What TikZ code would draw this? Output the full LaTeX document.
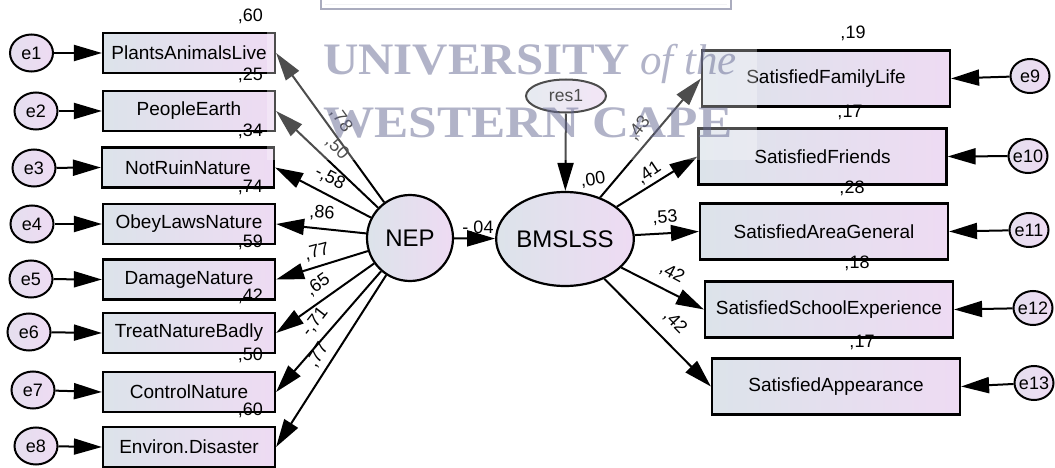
\documentclass[tikz,border=0pt]{standalone}
\usepackage{fontspec}
\setmainfont{Liberation Sans}
\newfontfamily\wmfont{Liberation Serif}
\usetikzlibrary{arrows.meta,shapes.geometric}
\definecolor{boxL}{RGB}{220,227,234}
\definecolor{boxR}{RGB}{238,219,243}
\definecolor{wmcol}{RGB}{100,104,146}
\definecolor{barcol}{RGB}{170,172,190}
\tikzset{
  obs/.style={draw, line width=2.2pt, left color=boxL, right color=boxR, inner sep=0pt, font=\fontsize{19}{22}\selectfont},
  lbox/.style={obs, minimum width=172pt, minimum height=40pt},
  rbox/.style={obs, minimum width=248pt, minimum height=56pt},
  err/.style={ellipse, draw, line width=2pt, left color=boxL!50!boxR, right color=boxR, inner sep=0pt, label={[font=\fontsize{18}{20}\selectfont]center:#1}},
  lerr/.style={err=#1, minimum width=43pt, minimum height=37pt},
  rerr/.style={err=#1, minimum width=39pt, minimum height=34pt},
  lat/.style={draw, line width=2.2pt, left color=boxL, right color=boxR, inner sep=0pt, font=\fontsize{24}{28}\selectfont},
  arr/.style={-{Triangle[length=28pt,width=16pt]}, line width=2pt},
  coef/.style={font=\fontsize{18}{20}\selectfont, inner sep=0pt},
  wmtext/.style={text=wmcol, text opacity=0.5, inner sep=0pt},
}
\begin{document}
\begin{tikzpicture}[x=1pt,y=-1pt]
\useasboundingbox (0,0) rectangle (1055,468);
\fill[white] (0,0) rectangle (1055,468);

% left observed variables
\node[lbox] (b1) at (189,53)    {PlantsAnimalsLive};
\node[lbox] (b2) at (189,111)   {PeopleEarth};
\node[lbox] (b3) at (188,167.5) {NotRuinNature};
\node[lbox] (b4) at (189,224)   {ObeyLawsNature};
\node[lbox] (b5) at (189,279.5) {DamageNature};
\node[lbox] (b6) at (189,333)   {TreatNatureBadly};
\node[lbox] (b7) at (189,392)   {ControlNature};
\node[lbox] (b8) at (189,447)   {Environ.Disaster};

% left errors
\node[lerr=e1] (e1) at (31.5,53) {};
\node[lerr=e2] (e2) at (36,111) {};
\node[lerr=e3] (e3) at (34,168) {};
\node[lerr=e4] (e4) at (32,224) {};
\node[lerr=e5] (e5) at (31,279) {};
\node[lerr=e6] (e6) at (29,332) {};
\node[lerr=e7] (e7) at (33,390) {};
\node[lerr=e8] (e8) at (36,446) {};

% right observed variables
\node[rbox] (b9)  at (826,78.5)   {SatisfiedFamilyLife};
\node[rbox] (b10) at (822.5,156.5) {SatisfiedFriends};
\node[rbox] (b11) at (824,231.5)  {SatisfiedAreaGeneral};
\node[rbox] (b12) at (829,309.5)  {SatisfiedSchoolExperience};
\node[rbox] (b13) at (836,386.5)  {SatisfiedAppearance};

% right errors
\node[rerr=e9]  (e9)  at (1030,76)  {};
\node[rerr=e10] (e10) at (1028,156) {};
\node[rerr=e11] (e11) at (1029,230) {};
\node[rerr=e12] (e12) at (1033,308) {};
\node[rerr=e13] (e13) at (1034,383) {};

% latent variables
\node[lat, circle, minimum size=86pt] (nep) at (410,238) {NEP};
\node[lat, ellipse, minimum width=124pt, minimum height=94pt] (bm) at (565,239) {BMSLSS};
\node[draw, ellipse, line width=2pt, left color=boxL, right color=boxR, minimum width=80pt, minimum height=33pt, inner sep=0pt, font=\fontsize{17.5}{20}\selectfont] (res) at (566,96) {res1};

% error arrows
\foreach \i in {1,...,8} \draw[arr] (e\i) -- (b\i.west);
\foreach \i in {9,...,13} \draw[arr] (e\i) -- (b\i.east);

% loadings
\foreach \i in {1,...,8} \draw[arr] (nep) -- (b\i.east);
\foreach \i in {9,...,13} \draw[arr] (bm) -- (b\i.west);
\draw[arr] (nep) -- (bm);
\draw[arr] (res) -- (bm);

% squared multiple correlations (left)
\node[coef, anchor=east] (r1) at (263,16)  {,60};
\node[coef, anchor=east] (r2) at (263,75)  {,25};
\node[coef, anchor=east] (r3) at (263,131) {,34};
\node[coef, anchor=east] (r4) at (263,187) {,74};
\node[coef, anchor=east] (r5) at (263,242) {,59};
\node[coef, anchor=east] (r6) at (263,296) {,42};
\node[coef, anchor=east] (r7) at (263,355) {,50};
\node[coef, anchor=east] (r8) at (263,410) {,60};

% squared multiple correlations (right)
\node[coef] (r9)  at (853,33)  {,19};
\node[coef] (r10) at (850,112) {,17};
\node[coef] (r11) at (852,188) {,28};
\node[coef] (r12) at (857,263) {,18};
\node[coef] (r13) at (862,342) {,17};

% loading labels (left)
\node[coef, rotate=-54] (l1) at (341,120) {,78};
\node[coef, rotate=-45] (l2) at (337,148) {,50};
\node[coef, rotate=-27] (l3) at (330,178) {-,58};
\node[coef, rotate=-4]  (l4) at (322,213) {,86};
\node[coef, rotate=15]  (l5) at (317,252) {,77};
\node[coef, rotate=35]  (l6) at (318,285) {,65};
\node[coef, rotate=52]  (l7) at (315,322) {-,71};
\node[coef, rotate=58]  (l8) at (318,355) {,77};

% loading labels (right)
\node[coef, rotate=52]  (l9)  at (639,128) {,43};
\node[coef, rotate=34]  (l10) at (649,173) {,41};
\node[coef, rotate=4]   (l11) at (665,218) {,53};
\node[coef, rotate=-28] (l12) at (672,273) {,42};
\node[coef, rotate=-46] (l13) at (675,322) {,42};

\node[coef] (lnb) at (478,228) {-,04};
\node[coef, rotate=8] (lres) at (593,180) {,00};

% watermark overlay
\fill[white, opacity=0.3] (267,0) rectangle (757,160);
\draw[barcol, line width=2.5pt] (321,-4) rectangle (731,9);
\draw[white!85!barcol, line width=1pt] (325,4.5) -- (727,4.5);
\node[wmtext, anchor=base west, xscale=1.087, font=\wmfont\bfseries\fontsize{45}{50}\selectfont] (wm1) at (323,75) {UNIVERSITY};
\node[wmtext, anchor=base west, font=\wmfont\itshape\fontsize{43}{50}\selectfont] (wm2) at (640,75) {of the};
\node[wmtext, anchor=base west, xscale=1.14, font=\wmfont\bfseries\fontsize{45}{50}\selectfont] (wm3) at (323,138) {WESTERN CAPE};
\end{tikzpicture}
\end{document}
